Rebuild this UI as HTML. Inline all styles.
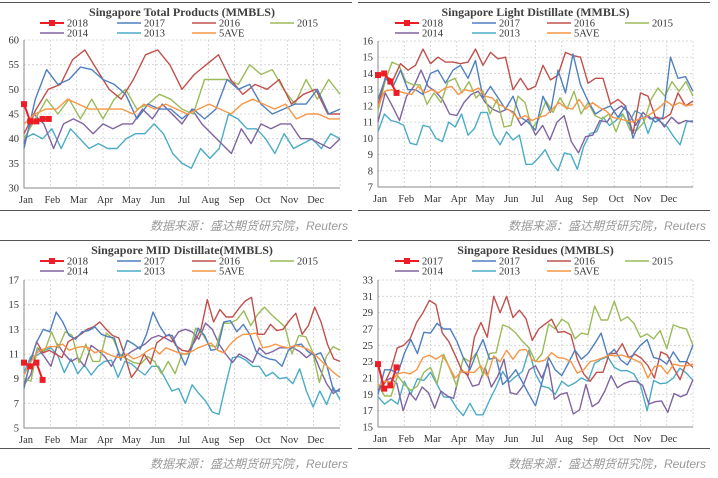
<!DOCTYPE html>
<html><head><meta charset="utf-8"><style>
html,body{margin:0;padding:0;background:#fff;}
svg{display:block;font-family:"Liberation Serif","Noto Serif CJK SC",serif;}
</style></head><body>
<svg id="c" width="718" height="478" viewBox="0 0 718 478"></svg>
<script>
const seriesNames = ["2017","2016","2015","2014","2013","5AVE"];
const seriesColors = ["#4f7fbf","#c0504d","#9bbb59","#8064a2","#4bacc6","#f79646"];
const months = ["Jan","Feb","Mar","Apr","May","Jun","Jul","Aug","Sep","Oct","Nov","Dec"];

// Panel 1: Total Products
const tp2018 = [47,43.5,43.5,44,44];
const tp2017 = [38,48,54,51,52,54.5,54,52,51,49,44,47,46,46,44,46,44,46,52,50,51,47,45,46,47,47,50,45,46];
const tp2016 = [41,46,50,51,56,58,54,50,48,52,57,58,55,50,53,55,57,52,49,51,50,52,47,49,50,45,45];
const tp2015 = [40,44,48,45,48,44,48,44,48,50,46,47,49,48,46,45,52,52,52,51,55,53,54,50,47,52,48,52,49];
const tp2014 = [39,45,43,38,43,44,43,41,43,42,43,43,46,44,47,45,43,46,43,41,39,37,42,39,43,42,43,43,40,40,39,38,40];
const tp2013 = [40,41,40,42,38,42,40,38,39,38,38,40,41,41,43,41,37,35,34,38,36,38,45,44,42,42,40,37,41,38,39,40,38,41,40];
const tpAve = [43,45,46,46,48,47,46,46,46,46,45,47,46,47,46,45,46,47,46,45,47,48,47,46,47,44,45,45,44,44];

// Panel 2: Light Distillate
const ld2018 = [13.9,14,13.5,12.8];
const ld2017 = [12.4,13.7,13.2,14.2,13,13,12.7,14,14.2,13.4,14.2,14.5,13.7,14.8,12.5,13.2,12.5,11.8,12.6,11.3,11,10.5,12.6,11.6,14.2,12.8,15.2,13.3,12.3,11.5,11.8,12,11.3,12,10,11.2,11.4,11,11.3,15,13.7,13.8,12.9];
const ld2016 = [12,13.8,13.6,14.6,14.2,14.5,15.5,14.6,15,14.7,14.7,14.6,14.7,15.5,14.5,15.3,14.9,15,13,13.7,13,13.2,14.5,13.6,13.9,15.3,15.1,15,13.4,13.7,13.7,12.1,12.4,12,10.3,12.8,12.6,11.3,11.2,11.5,12.8,12,12.3];
const ld2015 = [11.7,13.5,14.7,14.5,13.5,13.3,13.3,12.1,12.8,12.2,13.5,13.7,12.8,13.5,12.5,12.9,11.5,12.4,10.7,10.8,12.6,12.2,10.6,11.2,12.3,11.6,12.5,11.8,12.9,11.5,12.2,11.4,11.2,11.5,10.4,11.5,10.5,10.5,11,12.4,13.1,12.6,13.5,12.9,13.5,12.6];
const ld2014 = [11,12.8,12,11.1,12.6,13.2,14.2,13.2,12.9,12.4,11.5,11.4,12.2,12.7,12.9,12.2,11.8,11.6,11.8,11.6,10.8,11.2,10.2,10.8,9.9,11,11.4,9.8,9.1,10.1,10.2,11.1,11,11.7,12,11.6,10.8,11.6,11.2,11.3,10.7,11.3,10.9,11.1,11];
const ld2013 = [10.4,11.5,11.1,11,10.8,9.7,9.6,10.8,10.7,10,9.8,11,10.7,11.5,10.2,10.6,11.6,11.6,10.2,9.6,10.4,9.9,10.2,8.4,8.4,8.8,9.3,8.5,8,9.1,9,8.1,9.5,10.3,10.4,11.3,10.8,11.1,11.5,10.9,11.7,11.5,10.3,11.3,11,10.7,10.1,9.6,11,11.1];
const ldAve = [12,12.9,13,12.9,12.8,12.7,13.2,12.8,13,12.8,13.1,13.2,12.7,13,12.9,13.1,12.6,12.5,12.1,11.9,11.6,11.2,11.4,11.1,11.3,11.4,11.8,12.2,11.9,11.8,12.4,11.8,12.2,11.9,11.7,11.3,11.2,11.1,11,11.2,11.3,11.6,11.9,12.3,12,12.2,12,12.1];

// Panel 3: MID Distillate
const md2018 = [10.3,10,10.3,8.9];
const md2017 = [8.2,10.5,12,13,12.8,14.4,13.6,12.5,12.2,12.8,12.9,13.2,12.6,12.4,12.3,10.5,12.1,11.8,11.4,12.6,14.4,13.3,12.5,12.5,11.2,10.1,11.5,13.1,12.5,11.3,11.4,13.6,13.7,12.8,13.4,12.6,11.2,10.8,10.6,10.5,10,11.3,11.7,11.8,11.2,10.9,11.1,10,8,8];
const md2016 = [8.4,10.3,12,11.1,11.3,11,10.7,12,12.3,12.6,13,13.2,13.6,13,12.5,12.3,10.8,9.1,9.8,11,10.2,11.9,12.3,12.6,11.7,11.3,11.2,12,13,15.4,13.6,14.6,14,14,14.7,15.3,15.6,12.6,12.6,13.4,12.9,13,13.7,14.3,12.6,13.3,14.8,13.6,11.8,10.6,10.4];
const md2015 = [9,8.8,11.5,11.2,12.8,11.5,12.8,12.5,10.3,11.8,10.4,10.4,12.7,12.2,10.9,10.6,10.3,10.2,10.8,10.4,9.4,10.4,9.4,11,11,13.1,12.6,11.7,11.6,13.5,13.5,13.8,14.5,13.3,14.2,14.8,14.2,13.7,13.2,11,12.5,12.4,11.2,8.7,10.8,11.6,11.3];
const md2014 = [8.5,9.3,11.5,10.8,10,11.8,11,10.4,10.7,10,11.7,11.3,10.8,10,11,10.8,11.2,11.5,11.8,12.3,12.5,12.3,12,12.8,13,12.8,12.2,13.5,13,11.8,11,10.3,11,10.7,10.3,11.5,11,11.2,11.5,11.5,11.5,11.2,10.7,11.1,9.8,8.6,7.8,8.2];
const md2013 = [9.5,10.8,10.9,11.3,11.5,10.9,9.5,10.6,9.4,10.1,9.3,10,10.4,10.5,9.1,10.4,10.2,9.7,9.3,10,10,9,8,8.2,7,8.5,7.8,7.2,6.3,6.1,8.5,10.7,10.8,10.5,10,10,9.2,9.5,9,9.1,8.6,9.8,8,6.7,8,6.9,8.3,7.3];
const mdAve = [9.3,10.3,11.1,11.4,11.6,11.6,11.8,11.3,11.5,11.6,11.5,11.1,11.3,11,10.8,10.7,11,10.6,10.8,11.2,11.5,11,11.5,11.3,11.1,11,11.2,11.5,11.7,11.9,11.3,11.1,11.8,12.3,12.6,12.6,12.7,11.5,11.6,11.8,11.6,11.5,11.7,11.6,11.4,11,10.5,10,9.5,9.1];

// Panel 4: Residues
const rs2018 = [22.7,19.7,20.1,22.3];
const rs2017 = [19,22,22,21.5,24,25.7,24,26.6,26.5,27.7,27,27,25.5,23.5,22,24,25.7,23.3,23.5,20.2,21,22,20.5,19,17.6,20.5,23.5,22,21.3,22.8,24.4,23.3,24,25.2,26.5,23.7,24.5,23.2,22.6,24,25,25.7,23.5,23.3,22.7,24.2,23,23,25];
const rs2016 = [19.5,20.3,22,24.7,25,25.8,27.8,29,30.5,30,26.5,25.5,23.8,22,21.3,26,27.8,26,31,29,31,28.4,29.3,28.3,25.6,27,27.6,28.2,26.6,26.7,26.3,23.3,21.5,20.6,21.7,21.7,24,24,25.2,23.5,23.9,23.4,22.5,21,24.2,23.8,22.2,20.8,23,22.3];
const rs2015 = [20.2,18.8,18.8,21.3,20.2,19.5,20,21.7,22.3,20.3,23.9,22,20,23.5,23,24.1,21.3,24,24.1,27.5,27.2,26.5,25.5,24.7,23,24,27.6,27,28.2,27.7,25.8,26.5,26.3,29.8,28.1,28.1,30.4,28,28.5,27.7,26,26.4,25.8,26.8,24.6,27.5,27.2,27,25];
const rs2014 = [19.5,20.5,21,20.3,17,19.2,18.3,19.9,19.2,17.3,19.4,18.8,18.5,21.8,21.6,20,20.2,22.3,19.9,21.2,23.3,19.2,19,20,22,22.5,21,22.8,18.4,19,19.2,16.6,17.1,20.2,17.5,18,19.4,21.3,19.8,20.3,20.6,20.6,20.1,17.8,18.1,18.2,16.8,19.1,18.7,19,20.8];
const rs2013 = [18.7,17.8,18.4,17.8,20.6,19,20.9,20.7,21.7,20.2,18.7,18.6,17.3,16.4,17.9,16.5,16.5,18.3,19.9,21.8,20.5,21.2,21.8,24.4,21.5,20,19.8,19,20.6,20,20.4,21,20.6,22.8,23.3,23.6,22.3,21.9,21.9,21.5,20.1,17,20.7,20.3,20.4,21,22.2,21.6,20.7];
const rsAve = [20,20.6,20.5,21.5,21.7,21.5,22,23.5,23.8,23.3,23.8,22.5,21,21.8,21.7,21.7,22.5,21.2,23.7,23,24.4,23.3,24.4,24.5,23.2,23,23.2,24.1,23.5,23.4,23,21.6,22,23,23.2,23.5,23.8,23.7,23.8,23.5,23.2,22.8,21,22.4,22.5,21.5,22.7,22.5,22.5,22.7];

const NS = "http://www.w3.org/2000/svg";
const svg = document.getElementById("c");
function mk(tag, attrs, parent) {
  const e = document.createElementNS(NS, tag);
  for (const k in attrs) e.setAttribute(k, attrs[k]);
  (parent || svg).appendChild(e);
  return e;
}

const panels = [
  {key:"total-products", title:"Singapore Total Products (MMBLS)", ox:0, oy:0, L:24, R:340, T:40, B:188, ymin:30, ymax:60, step:5, s18:tp2018, lab18:"2018", series:[tp2017,tp2016,tp2015,tp2014,tp2013,tpAve]},
  {key:"light-distillate", title:"Singapore Light Distillate  (MMBLS)", ox:358, oy:0, L:378, R:693, T:41, B:187, ymin:7, ymax:16, step:1, s18:ld2018, lab18:"2018", series:[ld2017,ld2016,ld2015,ld2014,ld2013,ldAve]},
  {key:"mid-distillate", title:"Singapore MID Distillate(MMBLS)", ox:0, oy:238, L:24, R:340, T:280, B:428, ymin:5, ymax:17, step:2, s18:md2018, lab18:"2018", series:[md2017,md2016,md2015,md2014,md2013,mdAve]},
  {key:"residues", title:"Singapore Residues  (MMBLS)", ox:358, oy:238, L:378, R:693, T:280, B:427, ymin:15, ymax:33, step:2, s18:rs2018, lab18:"2017", series:[rs2017,rs2016,rs2015,rs2014,rs2013,rsAve]}
];

panels.forEach(p => {
  const g = mk("g", {});
  
  
  const ys = v => p.B - (v - p.ymin) / (p.ymax - p.ymin) * (p.B - p.T);
  const xs = (i, n) => p.L + i / (n - 1) * (p.R - p.L);
  const xw = w => p.L + w / 51 * (p.R - p.L);
  const tl = mk("line", {x1:p.ox, x2:p.ox+352, y1:p.oy+2.5, y2:p.oy+2.5, stroke:"#555", "stroke-width":1}, g);
  
  
  const bl = mk("line", {x1:p.ox, x2:p.ox+352, y1:p.oy+210.5, y2:p.oy+210.5, stroke:"#555", "stroke-width":1}, g);
  
  
  const t = mk("text", {x:(p.L+p.R)/2, y:p.oy+16, "text-anchor":"middle", "font-size":12, "font-weight":"bold", fill:"#404040"}, g);
  t.textContent = p.title;
  
  
  for (let v = p.ymin; v <= p.ymax + 1e-9; v += p.step) {
    const y = ys(v);
    if (v > p.ymin) {
      const gl = mk("line", {x1:p.L, x2:p.R, y1:y, y2:y, stroke:"#d0d0d0", "stroke-dasharray":"2,2", "stroke-width":0.8}, g);
      
      
    }
    const tx = mk("text", {x:p.L-5, y:y+3.5, "text-anchor":"end", "font-size":10.5, fill:"#333"}, g);
    tx.textContent = String(v);
    
    
  }
  const mw = (p.R - p.L) / 12;
  months.forEach((m, i) => {
    const x = p.L + i * mw;
    if (i > 0) {
      const gl = mk("line", {x1:x, x2:x, y1:p.T, y2:p.B, stroke:"#d0d0d0", "stroke-dasharray":"2,2", "stroke-width":0.8}, g);
      
      
    }
    const tx = mk("text", {x:x+2, y:p.B+15, "text-anchor":"middle", "font-size":10.5, fill:"#333"}, g);
    tx.textContent = m;
    
    
  });
  const rgl = mk("line", {x1:p.R, x2:p.R, y1:p.T, y2:p.B, stroke:"#d0d0d0", "stroke-dasharray":"2,2", "stroke-width":0.8}, g);
  
  
  const ax = mk("path", {d:`M${p.L},${p.T}V${p.B}H${p.R}`, fill:"none", stroke:"#888", "stroke-width":1}, g);
  
  
  const order = [4,3,2,1,0,5];
  order.forEach(si => {
    const arr = p.series[si];
    const pts = arr.map((v, i) => xs(i, arr.length).toFixed(1) + "," + ys(v).toFixed(1)).join(" ");
    const pl = mk("polyline", {points:pts, fill:"none", stroke:seriesColors[si], "stroke-width":1.4, "stroke-linejoin":"round"}, g);
    
    
  });
  const pts18 = p.s18.map((v, i) => xw(i).toFixed(1) + "," + ys(v).toFixed(1)).join(" ");
  const l18 = mk("polyline", {points:pts18, fill:"none", stroke:"#ee1c24", "stroke-width":2}, g);
  
  
  p.s18.forEach((v, i) => {
    const r = mk("rect", {x:xw(i)-3, y:ys(v)-3, width:6, height:6, fill:"#ee1c24"}, g);
    
    
  });
  const d = p.ox === 0 ? 0 : 355;
  const ly1 = p.oy + 23, ly2 = p.oy + 33;
  const leg = [
    {x:40, y:ly1, c:"#ee1c24", t:p.lab18, m:true},
    {x:117, y:ly1, c:seriesColors[0], t:"2017"},
    {x:192, y:ly1, c:seriesColors[1], t:"2016"},
    {x:270, y:ly1, c:seriesColors[2], t:"2015"},
    {x:40, y:ly2, c:seriesColors[3], t:"2014"},
    {x:117, y:ly2, c:seriesColors[4], t:"2013"},
    {x:192, y:ly2, c:seriesColors[5], t:"5AVE"}
  ];
  leg.forEach(e => {
    const lg = mk("g", {}, g);
    
    
    mk("line", {x1:e.x+d, x2:e.x+d+24, y1:e.y, y2:e.y, stroke:e.c, "stroke-width":e.m?2:1.5}, lg);
    if (e.m) mk("rect", {x:e.x+d+9, y:e.y-3, width:6, height:6, fill:e.c}, lg);
    const tx = mk("text", {x:e.x+d+27, y:e.y+3.5, "font-size":10.5, fill:"#333"}, lg);
    tx.textContent = e.t;
  });
  const s = mk("text", {x:p.ox+348, y:p.oy+230, "text-anchor":"end", "font-size":12, "font-style":"italic", fill:"#999", "font-family":"\"Liberation Sans\",\"Noto Sans CJK SC\",sans-serif"}, g);
  s.textContent = "数据来源：盛达期货研究院，Reuters";
  
  
});
</script>
</body></html>
